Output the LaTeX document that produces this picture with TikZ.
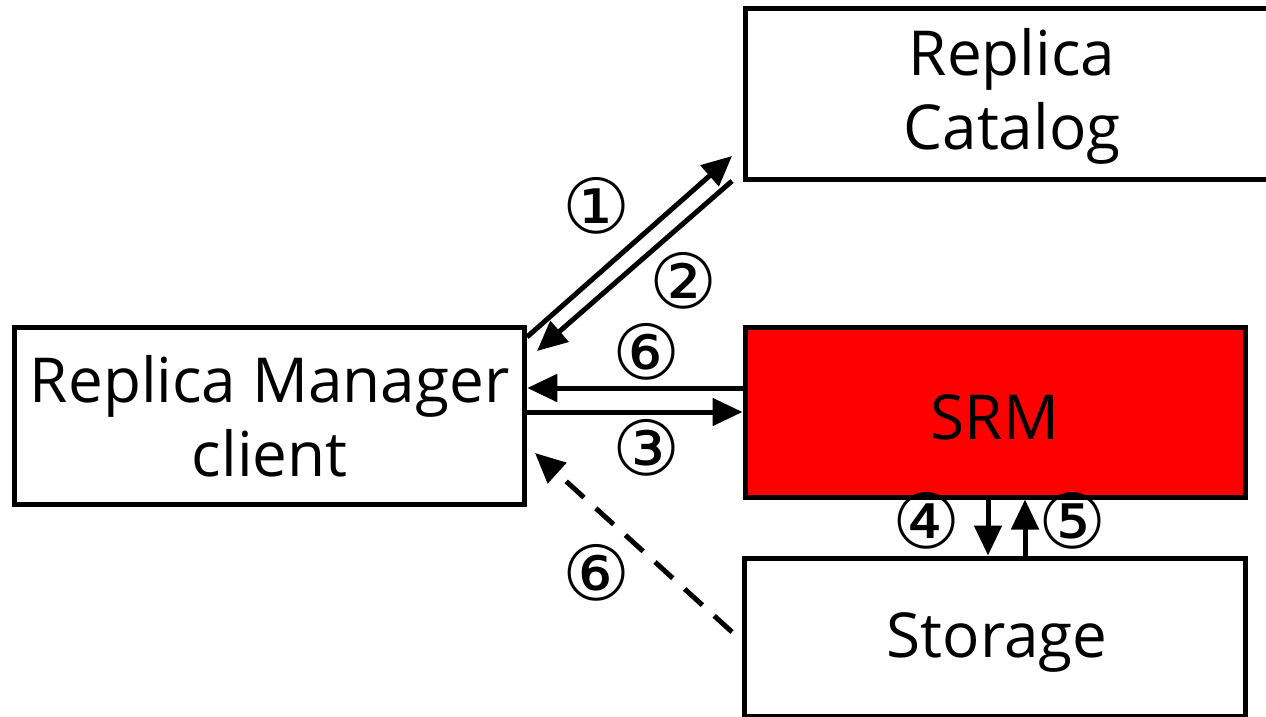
\documentclass[tikz,border=0pt]{standalone}
\usepackage{fontspec}
\setmainfont{Open Sans}
\newfontfamily\circfont{DejaVu Sans}
\usetikzlibrary{arrows.meta}
\definecolor{srmred}{RGB}{255,0,0}
\begin{document}
\begin{tikzpicture}[x=1pt,y=-1pt,
  box/.style={draw,line width=5pt,inner sep=0pt,align=center,
    font=\fontsize{62}{74}\selectfont},
  boxtext/.style={inner sep=0pt,align=center,font=\fontsize{62}{74}\selectfont},
  conn/.style={line width=5pt,-{Triangle[length=30pt,width=27pt]}},
  num/.style={inner sep=0pt,font=\circfont\fontsize{76}{76}\selectfont}]
\useasboundingbox (0,0) rectangle (1266,717);
\fill[white] (0,0) rectangle (1266,717);
% boxes
\node[box,minimum width=510pt,minimum height=177pt] (client) at (269.75,416) {Replica Manager\\client};
\node[box,minimum width=545pt,minimum height=171pt] (catalog) at (1017.5,94) {};
\node[boxtext] (cattext) at (1012,96) {Replica\\Catalog};
\node[box,fill=srmred,minimum width=500pt,minimum height=170pt] (srm) at (995,412) {};
\node[boxtext] (srmtext) at (995,417) {SRM};
\node[box,minimum width=501pt,minimum height=158pt] (storage) at (995,637) {};
\node[boxtext] (stortext) at (997,642) {Storage};
% coordinates for connectors
\coordinate (c1s) at (527,337);
\coordinate (c1e) at (732,156);
\coordinate (c2s) at (732,181);
\coordinate (c2e) at (537,351);
\coordinate (d6s) at (732,632);
\coordinate (d6e) at (535,453);
\coordinate (s6) at ([yshift=24pt]srm.west);
% connectors
\draw[conn] (c1s) -- (c1e);
\draw[conn] (c2s) -- (c2e);
\draw[conn] (s6) -- (client.east |- s6);
\draw[conn] (client.east |- srm.west) -- (srm.west);
\draw[conn] ([xshift=-7pt]srm.south) -- ([xshift=-7pt]storage.north);
\draw[conn] ([xshift=30pt]storage.north) -- ([xshift=30pt]srm.south);
\draw[conn,dash pattern=on 24pt off 16pt] (d6s) -- (d6e);
% labels
\node[num] (n1) at (597,206) {①};
\node[num] (n2) at (684,281) {②};
\node[num] (n6a) at (647,352) {⑥};
\node[num] (n3) at (647,448) {③};
\node[num] (n4) at (927,521) {④};
\node[num] (n5) at (1073,521) {⑤};
\node[num] (n6b) at (597,573) {⑥};
\end{tikzpicture}
\end{document}
